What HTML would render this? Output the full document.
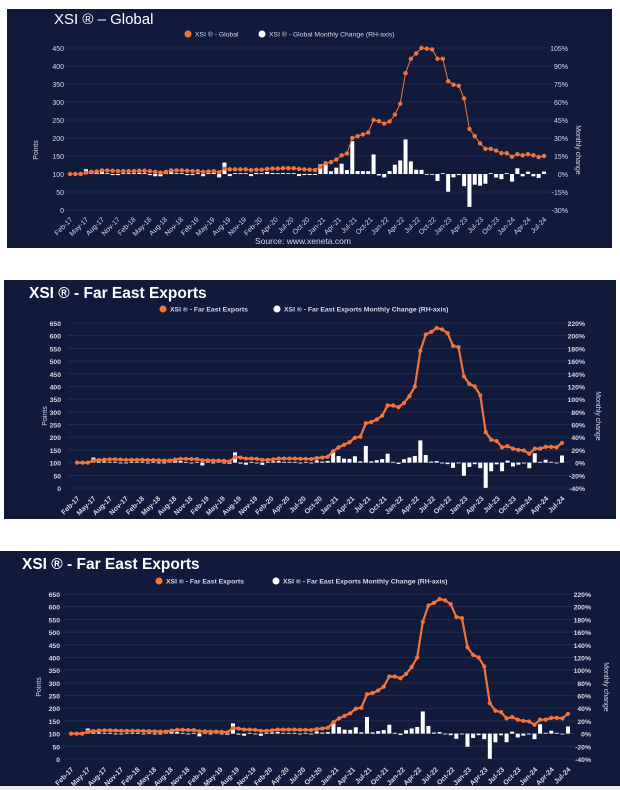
<!DOCTYPE html>
<html><head><meta charset="utf-8">
<style>
html,body{margin:0;padding:0;background:#fff;width:620px;height:790px;overflow:hidden}
svg{display:block}
text{font-family:"Liberation Sans",sans-serif;fill:#d6d9e4}
</style></head><body>
<svg id="s" width="620" height="790" xmlns="http://www.w3.org/2000/svg">
<rect x="0" y="0" width="620" height="790" fill="#fff"/>
<rect x="0" y="786" width="620" height="4" fill="#ecebe8"/>
<rect x="7" y="9" width="605" height="239" fill="#121a3c"/>
<rect x="4" y="280" width="612" height="239" fill="#121a3c"/>
<rect x="0" y="551" width="620" height="235" fill="#121a3c"/>
<text x="54" y="24" font-size="15" fill="#fff" style="fill:#fff">XSI ® – Global</text>
<text x="29" y="298" font-size="15.5" font-weight="bold" style="fill:#fff">XSI ® - Far East Exports</text>
<text x="22" y="569" font-size="15.5" font-weight="bold" style="fill:#fff">XSI ® - Far East Exports</text>
<text x="303" y="244" font-size="8.5" text-anchor="middle">Source: www.xeneta.com</text>
</svg>
<script>
var S=document.getElementById('s');var NS='http://www.w3.org/2000/svg';
function el(t,a,txt){var e=document.createElementNS(NS,t);for(var k in a)e.setAttribute(k,a[k]);if(txt!=null)e.textContent=txt;S.appendChild(e);return e;}
var G=[100,100,100,104,106,107,110,110,109,108,108,
108,108,109,109,108,106,104,106,110,110,110,109,
108,108,106,107,108,105,115,113,113,113,113,111,
112,112,114,115,115,116,116,116,114,113,112,111,
120,130,133,140,152,157,200,205,210,215,250,247,
240,246,265,295,380,420,435,450,448,446,420,420,
358,348,345,310,225,205,185,170,170,165,158,158,
148,155,152,155,152,147,150];
var F=[100,100,100,108,110,112,113,113,112,111,111,
111,111,110,110,109,108,108,112,115,115,114,114,
109,109,108,108,107,105,122,120,116,116,115,111,
111,113,116,116,116,116,115,115,114,118,120,123,
145,160,170,180,198,202,255,260,270,285,325,325,
318,335,362,400,540,605,615,630,625,610,560,555,
440,410,400,365,220,190,185,160,165,155,150,148,
135,155,155,162,162,160,178];
var LAB=['Feb-17','May-17','Aug-17','Nov-17','Feb-18','May-18','Aug-18','Nov-18','Feb-19','May-19','Aug-19','Nov-19','Feb-20','Apr-20','Jul-20','Oct-20','Jan-21','Apr-21','Jul-21','Oct-21','Jan-22','Apr-22','Jul-22','Oct-22','Jan-23','Apr-23','Jul-23','Oct-23','Jan-24','Apr-24','Jul-24'];
function chart(o){
 var d=o.data,n=d.length,dx=(o.x1-o.x0)/(n-1);
 var ky=(o.yBot-o.yTop)/o.maxL;
 function Y(v){return o.yBot-v*ky;}
 var y0=Y(100);
 for(var v=0;v<=o.maxL;v+=50){var y=Y(v);
  el('line',{x1:o.gx0,x2:o.gx1,y1:y,y2:y,stroke:'#252e55','stroke-width':0.8});
  el('text',{x:o.lx,y:y+3,'font-size':o.fs,'text-anchor':'end','font-weight':o.fw},String(v));
  var p=o.pMax-(o.maxL-v)/50*o.pStep;
  el('text',{x:o.rx,y:y+3,'font-size':o.fs,'text-anchor':'end','font-weight':o.fw},p+'%');
 }
 var pxPct=50*ky/o.pStep;
 for(var i=1;i<n;i++){var p=(d[i]/d[i-1]-1)*100;var h=p*pxPct;var x=o.x0+i*dx-2;
  if(Math.abs(h)<0.6)h=h<0?-0.8:0.8;
  el('rect',{x:x,y:h>0?y0-h:y0,width:4,height:Math.abs(h),fill:'#fff'});}
 var pts=d.map(function(v,i){return (o.x0+i*dx).toFixed(1)+','+Y(v).toFixed(1)}).join(' ');
 el('polyline',{points:pts,fill:'none',stroke:'#f4733a','stroke-width':o.lw});
 d.forEach(function(v,i){el('circle',{cx:o.x0+i*dx,cy:Y(v),r:o.r,fill:'#f4733a'});});
 var lstep=(o.x1-o.x0)/30;
 for(var j=0;j<31;j++){var x=o.x0+j*lstep+3;
  el('text',{x:x,y:o.xly,'font-size':7,'text-anchor':'end','font-weight':o.fw,transform:'rotate(-45 '+x+' '+o.xly+')'},LAB[j]);}
 el('text',{x:o.ptx,y:o.pty,'font-size':7,'text-anchor':'middle',transform:'rotate(-90 '+o.ptx+' '+o.pty+')'},'Points');
 el('text',{x:o.mtx,y:o.pty,'font-size':7,'text-anchor':'middle',transform:'rotate(90 '+o.mtx+' '+o.pty+')'},'Monthly change');
 el('circle',{cx:o.lgx,cy:o.lgy,r:3.5,fill:'#f4733a'});
 el('text',{x:o.lgx+7,y:o.lgy+2.5,'font-size':6.8,'font-weight':o.fw},o.l1);
 el('circle',{cx:o.lgx2,cy:o.lgy,r:3.5,fill:'#fff'});
 el('text',{x:o.lgx2+7,y:o.lgy+2.5,'font-size':6.8,'font-weight':o.fw},o.l2);
}
chart({data:G,x0:70,x1:544,yTop:48,yBot:210,maxL:450,pMax:105,pStep:15,gx0:62,gx1:552,lx:64,rx:568,fs:7,fw:'normal',lw:1,r:2.2,xly:220,ptx:38,pty:150,mtx:576,lgx:188,lgx2:262,lgy:34,l1:'XSI ® - Global',l2:'XSI ® - Global Monthly Change (RH-axis)'});
chart({data:F,x0:77,x1:562,yTop:323,yBot:488,maxL:650,pMax:220,pStep:20,gx0:68,gx1:570,lx:61,rx:585,fs:6.8,fw:'bold',lw:2.2,r:2.1,xly:499,ptx:47,pty:416,mtx:596,lgx:163,lgx2:277,lgy:309,l1:'XSI ® - Far East Exports',l2:'XSI ® - Far East Exports Monthly Change (RH-axis)'});
chart({data:F,x0:71,x1:568,yTop:594,yBot:759,maxL:650,pMax:220,pStep:20,gx0:64,gx1:575,lx:60,rx:591,fs:6.8,fw:'bold',lw:2.2,r:2.1,xly:770,ptx:41,pty:687,mtx:604,lgx:159,lgx2:276,lgy:581,l1:'XSI ® - Far East Exports',l2:'XSI ® - Far East Exports Monthly Change (RH-axis)'});
</script>
</body></html>
